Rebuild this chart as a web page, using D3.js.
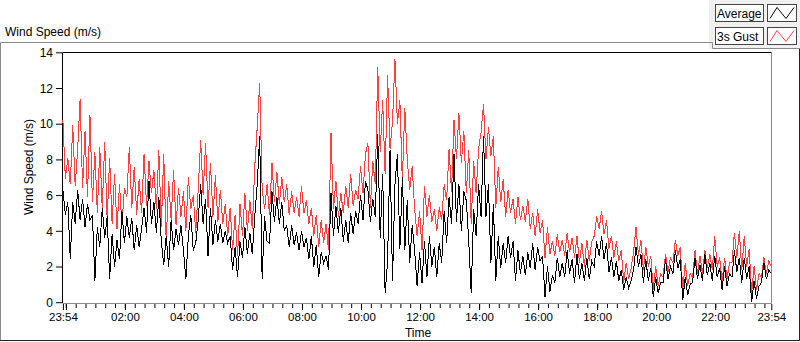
<!DOCTYPE html>
<html>
<head>
<meta charset="utf-8">
<script src="https://cdn.jsdelivr.net/npm/d3@7"></script>
<style>
  body { margin: 0; background: #fff; }
  svg { display: block; font-family: "Liberation Sans", Arial, sans-serif; }
  .tick text { fill: #000; }
</style>
</head>
<body>
<div id="chart"></div>
<script>
// Wind speed, one sample every 5 minutes from 23:54 to 23:54 next day
var startTime = new Date(2020, 0, 1, 23, 54);
var stepMinutes = 5;

var gust = [
  10.2, 6.9, 8.1, 6.6,  9.9, 6.5, 8.6, 11.4,  6.4, 9.6, 5.9, 10.5,  5.6, 8.4, 5.0, 8.7,
  5.2, 9.0, 4.6, 8.1,  4.4, 7.2, 4.1, 6.6,  4.3, 6.4, 5.9, 8.7,  5.3, 7.6, 4.9, 6.9,
  5.0, 8.3, 5.4, 7.9,  6.1, 7.4, 5.2, 8.5,  4.2, 8.3, 3.4, 6.8,  4.6, 7.4, 4.3, 6.4,
  4.8, 6.2, 4.0, 7.0,  5.2, 6.0, 3.9, 6.3,  9.1, 6.0, 8.9, 5.3,  7.8, 4.8, 7.1, 4.5,
  6.3, 4.4, 5.5, 3.7,  5.3, 2.9, 4.9, 2.6,  5.5, 3.7, 6.1, 4.0,  5.7, 4.1, 7.6, 9.8,
  12.3, 6.4, 5.2, 6.6,  4.9, 7.8, 5.6, 7.3,  5.5, 7.0, 5.6, 6.6,  4.9, 6.2, 5.0, 5.9,
  4.8, 6.5, 5.0, 5.7,  4.4, 5.3, 3.7, 4.9,  3.1, 4.6, 3.3, 4.4,  2.9, 9.5, 5.2, 6.8,
  4.8, 6.1, 5.0, 6.5,  5.3, 7.2, 5.4, 6.3,  5.8, 7.6, 6.1, 8.3,  8.9, 5.3, 7.9, 6.6,
  13.2, 8.4, 11.3, 7.2,  12.7, 8.6, 10.1, 13.6,  10.0, 11.3, 6.8, 10.9,  8.0, 6.3, 7.6, 5.2,
  3.7, 5.1, 2.9, 6.5,  4.8, 6.0, 4.5, 5.2,  4.0, 5.3, 4.6, 6.6,  5.7, 8.6, 6.2, 10.2,
  8.0, 10.6, 7.8, 9.6,  6.1, 8.5, 4.4, 7.9,  6.1, 8.6, 9.5, 11.1,  8.0, 9.8, 8.2, 9.3,
  5.3, 7.6, 5.6, 6.9,  4.8, 6.3, 5.0, 5.8,  4.4, 5.9, 4.6, 5.4,  4.5, 5.8, 4.1, 5.0,
  3.7, 5.2, 3.9, 4.6,  2.5, 4.2, 2.7, 3.4,  2.6, 3.8, 2.8, 3.5,  2.6, 3.9, 2.8, 3.6,
  2.5, 3.7, 2.2, 3.3,  2.0, 3.5, 2.3, 3.4,  3.7, 4.8, 4.1, 5.1,  3.8, 4.6, 3.0, 3.7,
  2.5, 3.4, 2.3, 2.9,  1.1, 2.2, 1.3, 1.9,  2.8, 4.2, 2.6, 3.5,  1.8, 3.1, 2.0, 2.6,
  0.7, 2.0, 0.9, 1.6,  1.4, 2.7, 1.7, 2.5,  2.2, 3.5, 2.6, 3.1,  0.7, 2.2, 0.9, 1.6,
  1.4, 2.9, 1.6, 2.6,  1.6, 2.9, 1.9, 2.7,  1.8, 3.7, 2.0, 2.5,  1.1, 2.5, 1.3, 2.2,
  2.2, 3.9, 2.5, 4.0,  1.8, 3.7, 2.0, 3.0,  0.5, 2.0, 0.7, 1.6,  1.4, 2.5, 1.6, 2.3,
  2.0
];

var average = [
  6.3, 4.9, 5.6, 2.4,  5.6, 4.4, 6.3, 4.6,  5.8, 4.2, 5.5, 4.6,  4.9, 1.2, 4.2, 3.1,
  5.3, 3.6, 4.8, 1.3,  3.8, 2.0, 3.5, 2.4,  5.1, 3.3, 4.8, 3.6,  4.7, 2.9, 4.3, 3.1,
  4.1, 5.3, 3.9, 6.8,  4.4, 5.6, 3.9, 5.9,  3.4, 2.1, 3.7, 2.0,  4.6, 2.9, 4.1, 3.2,
  4.3, 2.9, 1.3, 3.7,  4.9, 2.9, 3.3, 4.6,  6.6, 4.4, 5.8, 2.6,  5.3, 3.2, 4.6, 3.4,
  4.4, 3.3, 4.0, 3.3,  3.7, 1.8, 3.1, 1.4,  3.4, 2.5, 4.2, 2.7,  3.9, 2.7, 4.8, 6.6,
  9.3, 1.3, 4.8, 3.4,  3.3, 6.2, 4.5, 5.9,  4.4, 5.6, 4.0, 4.3,  3.1, 4.3, 3.2, 3.9,
  2.9, 4.0, 3.1, 3.6,  2.4, 3.7, 2.0, 3.2,  1.4, 2.8, 2.2, 2.6,  1.8, 6.1, 3.7, 5.4,
  3.9, 5.3, 3.4, 4.6,  3.3, 5.0, 3.8, 5.1,  4.4, 6.0, 4.6, 6.8,  6.3, 4.5, 5.8, 4.8,
  9.4, 3.6, 7.2, 0.5,  2.3, 8.5, 1.2, 6.6,  8.3, 3.0, 7.0, 2.9,  5.7, 2.2, 4.3, 2.9,
  0.9, 2.8, 1.1, 3.4,  1.4, 3.7, 2.0, 3.1,  1.4, 3.3, 2.2, 5.1,  3.3, 5.9, 4.4, 8.3,
  4.5, 6.6, 4.0, 6.2,  5.7, 3.4, 0.5, 5.2,  3.7, 6.6, 4.8, 9.3,  4.8, 6.6, 2.2, 5.5,
  1.2, 3.7, 1.9, 3.3,  2.2, 3.7, 2.5, 3.4,  1.2, 2.9, 1.6, 2.6,  1.5, 2.8, 1.9, 3.3,
  1.8, 3.1, 2.3, 2.6,  0.3, 2.0, 0.6, 1.5,  1.1, 2.5, 1.4, 2.2,  1.4, 2.9, 1.6, 2.4,
  1.1, 2.7, 1.3, 2.2,  1.2, 2.5, 1.3, 2.3,  2.0, 3.4, 2.6, 3.7,  2.4, 3.3, 1.7, 2.5,
  1.4, 2.3, 1.2, 1.8,  0.7, 1.4, 0.8, 1.2,  1.8, 3.1, 2.0, 2.7,  1.1, 2.4, 1.2, 1.9,
  0.3, 1.4, 0.5, 1.1,  1.1, 2.4, 1.3, 2.0,  1.6, 2.9, 1.9, 2.4,  0.1, 1.4, 0.4, 1.0,
  1.1, 2.5, 1.3, 2.1,  1.2, 2.7, 1.5, 2.2,  1.2, 2.6, 1.4, 1.9,  0.7, 2.0, 0.9, 1.6,
  1.4, 2.9, 1.7, 2.5,  1.1, 2.5, 1.3, 2.0,  0.0, 1.2, 0.2, 0.9,  1.1, 2.2, 1.3, 1.8,
  1.6
];

var yTicks = [0, 2, 4, 6, 8, 10, 12, 14];
var xTickLabels = ["23:54", "00:00", "02:00", "04:00", "06:00", "08:00", "10:00", "12:00",
                   "14:00", "16:00", "18:00", "20:00", "22:00", "23:54"];
var legendNames = ["Average", "3s Gust"];
var legendColors = ["#000000", "#ff4040"];

var W = 800, H = 342;
var endTime = d3.timeMinute.offset(startTime, stepMinutes * (gust.length - 1));

function timeAt(i) { return d3.timeMinute.offset(startTime, i * stepMinutes); }

// tick label strings -> dates (anything not after the start is on the next day)
var xTickTimes = xTickLabels.map(function(s, i) {
  var p = s.split(":");
  var t = new Date(startTime);
  t.setHours(+p[0], +p[1], 0, 0);
  if (i > 0 && t <= startTime) t = d3.timeDay.offset(t, 1);
  return t;
});

var svg = d3.select("#chart").append("svg")
  .attr("width", W).attr("height", H);

// outer frame
svg.append("rect").attr("x", 0).attr("y", 0).attr("width", W).attr("height", H).attr("fill", "#fff");
svg.append("rect").attr("x", 709).attr("y", 0).attr("width", 91).attr("height", 49).attr("fill", "#f0f0f0");
svg.append("path")
  .attr("d", "M0.5,341 V42.5 H712.5 V48.5 H800")
  .attr("fill", "none").attr("stroke", "#8a8a8a");
svg.append("path")
  .attr("d", "M0,340.5 H799.5 V49")
  .attr("fill", "none").attr("stroke", "#222");

// title
svg.append("text").attr("x", 5).attr("y", 36)
  .style("font-size", "12px").text("Wind Speed (m/s)");

// legend
legendNames.forEach(function(name, i) {
  var ly = 4.5 + i * 23;
  var g = svg.append("g");
  g.append("rect").attr("x", 715.5).attr("y", ly).attr("width", 48).attr("height", 17)
    .attr("fill", "#fff").attr("stroke", "#444");
  g.append("text").attr("x", 717).attr("y", ly + 13)
    .style("font-size", "12px").text(name);
  g.append("rect").attr("x", 767.5).attr("y", ly).attr("width", 29).attr("height", 17)
    .attr("fill", "#fff").attr("stroke", "#444");
  g.append("path")
    .attr("d", "M770," + (ly + 14) + " L777," + (ly + 3) + " L786," + (ly + 14) + " L794," + (ly + 3))
    .attr("fill", "none").attr("stroke", legendColors[i]).attr("stroke-width", 1);
});

// scales
var x = d3.scaleTime().domain([startTime, endTime]).range([62.9, 771.3]);
var y = d3.scaleLinear().domain([0, 14]).range([302.2, 52.3]);

// plot frame
svg.append("path").attr("d", "M62.5,303 V52.5 H771.5").attr("fill", "none").attr("stroke", "#000");
svg.append("path").attr("d", "M62.5,303.5 H771.5 V52.5").attr("fill", "none").attr("stroke", "#8a8a8a");

// lines (aliased like the original instrument display)
var line = d3.line()
  .x(function(d, i) { return x(timeAt(i)); })
  .y(function(d) { return y(d); });

var plot = svg.append("g").attr("shape-rendering", "crispEdges");
plot.append("path").datum(gust)
  .attr("d", line).attr("fill", "none")
  .attr("stroke", legendColors[1]).attr("stroke-width", 1);
plot.append("path").datum(average)
  .attr("d", line).attr("fill", "none")
  .attr("stroke", legendColors[0]).attr("stroke-width", 1);

// y axis
var yAxis = svg.append("g").attr("transform", "translate(62,0)")
  .call(d3.axisLeft(y).tickValues(yTicks).tickSize(6).tickSizeOuter(0).tickPadding(3));
yAxis.select(".domain").remove();
yAxis.selectAll("text").style("font-size", "12px").attr("dy", "0.35em");
yAxis.selectAll("line").attr("stroke", "#000");

// x axis minor ticks every 20 min
var minor = d3.timeMinute.every(20).range(startTime, d3.timeMinute.offset(endTime, 1));
var xMinor = svg.append("g").attr("transform", "translate(0,304)")
  .call(d3.axisBottom(x).tickValues(minor).tickSize(4).tickSizeOuter(0).tickFormat(""));
xMinor.select(".domain").remove();

// x axis major ticks
var xMajor = svg.append("g").attr("transform", "translate(0,304)")
  .call(d3.axisBottom(x).tickValues(xTickTimes).tickSize(6).tickSizeOuter(0).tickPadding(3)
    .tickFormat(function(d, i) { return xTickLabels[i] === "00:00" ? "" : xTickLabels[i]; }));
xMajor.select(".domain").remove();
xMajor.selectAll("text").style("font-size", "11.5px");

// axis names
svg.append("text").attr("x", 418).attr("y", 337).attr("text-anchor", "middle")
  .style("font-size", "12px").text("Time");
svg.append("text").attr("transform", "translate(33,167) rotate(-90)").attr("text-anchor", "middle")
  .style("font-size", "12px").text("Wind Speed (m/s)");
</script>
</body>
</html>
